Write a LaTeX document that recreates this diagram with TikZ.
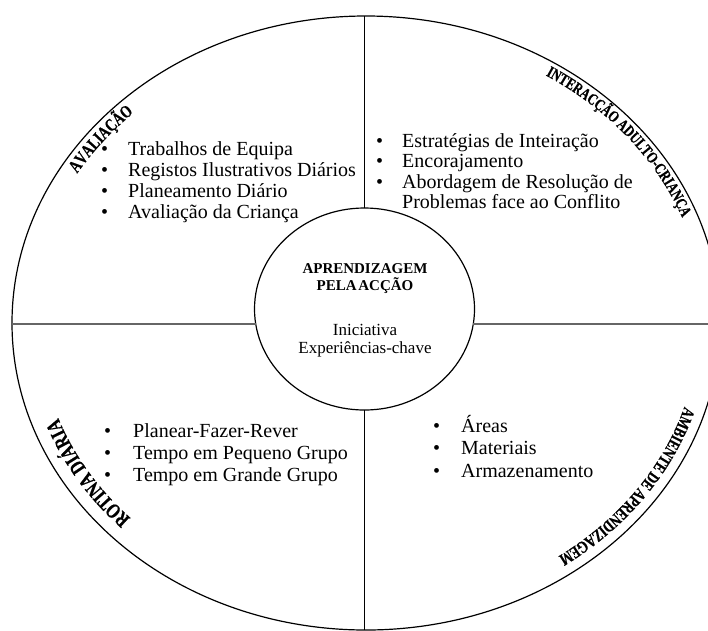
\documentclass[tikz,border=0pt]{standalone}
\usepackage{fontspec}
\setmainfont{Liberation Serif}
\newfontfamily\labelfont{Liberation Serif}[FakeStretch=0.75, FakeBold=0.7]
\usetikzlibrary{shapes.geometric,decorations.text}
\begin{document}
\begin{tikzpicture}[x=1pt,y=1pt,
  ring/.style={draw=black, line width=1.2pt, ellipse, inner sep=0pt, outer sep=0pt},
  divider/.style={draw=black, line width=1.2pt},
  hdivider/.style={draw=black!60, line width=2pt},
  itemlist/.style={anchor=base west, inner sep=0pt},
  centertext/.style={anchor=base, inner sep=0pt},
]
\useasboundingbox (0,0) rectangle (708,-630);
\clip (0,0) rectangle (708,-630);

\node[ring, minimum width=708pt, minimum height=614pt] (outer) at (366,-323) {};
\node[ring, minimum width=220pt, minimum height=202pt] (core) at (364.5,-309) {};
\coordinate (ctr) at (366,-323);

\draw[divider] (core.north |- outer.north) -- (core.north);
\draw[divider] (core.south) -- (core.south |- outer.south);
\draw[hdivider] (core.188) -- (core.188 -| outer.west);
\draw[hdivider] (core.352) -- (core.352 -| outer.east);

% centre texts
\node[centertext, font=\fontsize{15}{16}\selectfont\bfseries] (title) at (365,-273)
  {\begin{tabular}[t]{@{}c@{}}APRENDIZAGEM\\PELA\hspace{0.12em}ACÇÃO\end{tabular}};
\node[centertext, font=\fontsize{17}{18}\selectfont] (subtitle) at (365,-335)
  {\begin{tabular}[t]{@{}c@{}}Iniciativa\\Experiências-chave\end{tabular}};

% lists
\node[itemlist, font=\fontsize{20}{21}\selectfont] (evalList) at (101,-155)
  {\begin{tabular}[t]{@{}l@{\hspace{20pt}}l@{}}
  \textbullet & Trabalhos de Equipa\\
  \textbullet & Registos Ilustrativos Diários\\
  \textbullet & Planeamento Diário\\
  \textbullet & Avaliação da Criança
  \end{tabular}};
\node[itemlist, font=\fontsize{20}{20.5}\selectfont] (interList) at (376,-147)
  {\begin{tabular}[t]{@{}l@{\hspace{19pt}}l@{}}
  \textbullet & Estratégias de Inteiração\\
  \textbullet & Encorajamento\\
  \textbullet & Abordagem de Resolução de\\
   & Problemas face ao Conflito
  \end{tabular}};
\node[itemlist, font=\fontsize{20}{22}\selectfont] (routineList) at (104,-437)
  {\begin{tabular}[t]{@{}l@{\hspace{22pt}}l@{}}
  \textbullet & Planear-Fazer-Rever\\
  \textbullet & Tempo em Pequeno Grupo\\
  \textbullet & Tempo em Grande Grupo
  \end{tabular}};
\node[itemlist, font=\fontsize{20}{22.5}\selectfont] (envList) at (433,-432)
  {\begin{tabular}[t]{@{}l@{\hspace{21pt}}l@{}}
  \textbullet & Áreas\\
  \textbullet & Materiais\\
  \textbullet & Armazenamento
  \end{tabular}};

% curved labels
\path[decorate, decoration={text along path,
  text={|\labelfont\bfseries\fontsize{18}{18}\selectfont|AVALIAÇÃO}}]
  ([shift={(149:337pt and 290pt)}]ctr) arc[start angle=149, end angle=100, x radius=337pt, y radius=290pt];
\path[decorate, decoration={text along path,
  text={|\labelfont\bfseries\fontsize{16.3}{16.3}\selectfont|INTERACÇÃO ADULTO-CRIANÇA}}]
  ([shift={(58:339pt and 292pt)}]ctr) arc[start angle=58, end angle=0, x radius=339pt, y radius=292pt];
\path[decorate, decoration={text along path,
  text={|\labelfont\bfseries\fontsize{21}{21}\selectfont|ROTINA DIÁRIA}}]
  ([shift={(224:327pt and 281pt)}]ctr) arc[start angle=224, end angle=180, x radius=327pt, y radius=281pt];
\path[decorate, decoration={text along path,
  text={|\labelfont\bfseries\fontsize{17}{17}\selectfont|AMBIENTE DE APRENDIZAGEM}}]
  ([shift={(-17:333pt and 286pt)}]ctr) arc[start angle=-17, end angle=-70, x radius=333pt, y radius=286pt];
\end{tikzpicture}
\end{document}
